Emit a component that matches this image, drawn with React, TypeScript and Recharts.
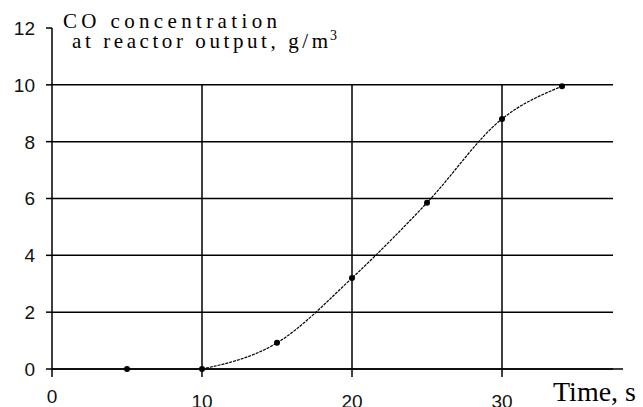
import React from 'react';
import { ComposedChart, Line, Scatter, XAxis, YAxis, ReferenceLine } from 'recharts';

// measured points (time, s / CO concentration, g/m3)
const TIME = [5, 10, 15, 20, 25, 30, 34];
const CONC = [0, 0, 0.92, 3.2, 5.85, 8.8, 9.95];

const X_TICKS = [0, 10, 20, 30];
const Y_TICKS = [0, 2, 4, 6, 8, 10, 12];
const GRID_Y = [0, 2, 4, 6, 8, 10];
const GRID_X = [10, 20, 30];

const points = TIME.map((t, i) => ({ t, c: CONC[i] }));
// fitted curve starts where the concentration begins to rise
const curve = points.filter(p => p.t >= 10);

const YTick = (props: any) => {
  const { x, y, payload } = props;
  return (
    <text x={x} y={y} dy="0.36em" textAnchor="end" fontFamily="'Liberation Sans', Arial, sans-serif" fontSize={19} fill="#111">
      {payload.value}
    </text>
  );
};

const XTick = (props: any) => {
  const { x, y, payload } = props;
  // the "0" label sits a bit higher than the others in the original
  const dy = payload.value === 0 ? 24 : 29;
  return (
    <text x={x} y={y + dy} textAnchor="middle" fontFamily="'Liberation Sans', Arial, sans-serif" fontSize={19} fill="#111">
      {payload.value}
    </text>
  );
};

const Dot = (props: any) => <circle cx={props.cx} cy={props.cy} r={3} fill="#000" />;

const App: React.FC = () => {
  return (
    <div style={{ position: 'absolute', left: 0, top: 0, width: 643, height: 407, background: '#fff' }}>
      <ComposedChart width={643} height={407} margin={{ top: 28, right: 30, bottom: 0, left: 0 }}>
        <XAxis
          type="number"
          dataKey="t"
          domain={[0, 37.4]}
          ticks={X_TICKS}
          tickSize={8}
          tickMargin={2}
          tick={<XTick />}
          axisLine={false}
          tickLine={{ stroke: '#000', strokeWidth: 1.5 }}
          height={38}
          allowDataOverflow
        />
        <YAxis
          type="number"
          domain={[0, 12]}
          ticks={Y_TICKS}
          tickSize={6}
          tickMargin={11}
          tick={<YTick />}
          axisLine={{ stroke: '#000', strokeWidth: 1.5 }}
          tickLine={{ stroke: '#000', strokeWidth: 1.5 }}
          width={52}
        />
        {GRID_Y.map(v => (
          <ReferenceLine key={`h${v}`} y={v} stroke="#000" strokeWidth={1.5} />
        ))}
        {GRID_X.map(v => (
          <ReferenceLine key={`v${v}`} segment={[{ x: v, y: 0 }, { x: v, y: 10 }]} stroke="#000" strokeWidth={1.5} />
        ))}
        {/* x axis runs a little past the grid */}
        <ReferenceLine segment={[{ x: 0, y: 0 }, { x: 38.07, y: 0 }]} ifOverflow="visible" stroke="#000" strokeWidth={1.5} />
        <Line
          data={curve}
          dataKey="c"
          type="monotone"
          stroke="#000"
          strokeWidth={1.2}
          strokeDasharray="3 1"
          dot={false}
          isAnimationActive={false}
        />
        <Scatter data={points} dataKey="c" fill="#000" shape={<Dot />} isAnimationActive={false} />
        <text fontFamily="'Liberation Serif', 'Times New Roman', serif" fontSize={21} fill="#000">
          <tspan x={63} y={28} textLength={214} lengthAdjust="spacing">CO concentration</tspan>
        </text>
        <text fontFamily="'Liberation Serif', 'Times New Roman', serif" fontSize={21} fill="#000">
          <tspan x={72} y={48} textLength={256} lengthAdjust="spacing">at reactor output, g/m</tspan>
          <tspan x={330} y={40} fontSize={14}>3</tspan>
        </text>
        <text x={553} y={401} fontFamily="'Liberation Serif', 'Times New Roman', serif" fontSize={28} fill="#000">
          Time, s
        </text>
      </ComposedChart>
    </div>
  );
};

export default App;
